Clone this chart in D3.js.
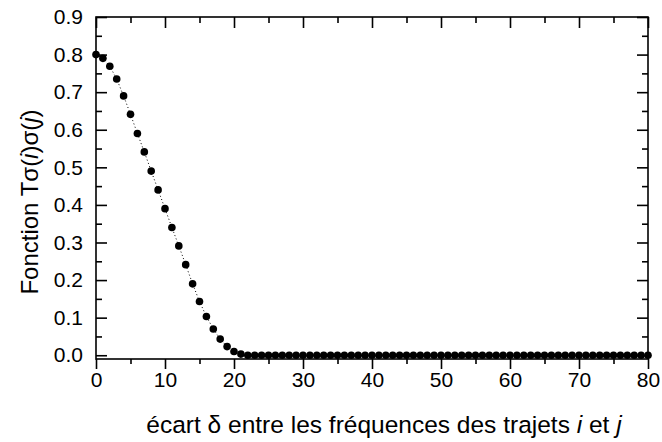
<!DOCTYPE html>
<html>
<head>
<meta charset="utf-8">
<script src="https://cdn.jsdelivr.net/npm/d3@7"></script>
<style>
body { margin: 0; background: #fff; }
text { font-family: "Liberation Sans", Arial, sans-serif; fill: #000; }
</style>
</head>
<body>
<div id="chart"></div>
<script>
// ecart delta (0..80) and the function value
var ecart = d3.range(0, 81)
var head = [0.80, 0.79, 0.769, 0.735, 0.69, 0.641, 0.59, 0.541, 0.49, 0.44,
	0.39, 0.34, 0.291, 0.241, 0.19, 0.143, 0.103, 0.07, 0.043, 0.023,
	0.010, 0.003]
var valeurs = ecart.map(function(d, i) { return i < head.length ? head[i] : 0 })
var xTicks = [0, 10, 20, 30, 40, 50, 60, 70, 80]
var yTicks = [0.0, 0.1, 0.2, 0.3, 0.4, 0.5, 0.6, 0.7, 0.8, 0.9]

var data = ecart.map(function(d, i) { return {x: d, y: valeurs[i]} })

var margin = {top: 17, right: 14, bottom: 83, left: 96},
	width = 662 - margin.left - margin.right,
	height = 442 - margin.top - margin.bottom

var svg = d3.select("#chart")
	.append("svg")
	.attr("width", 662)
	.attr("height", 442)
var g = svg.append("g")
	.attr("transform", `translate(${margin.left},${margin.top})`)

var x = d3.scaleLinear().domain([0, 80]).range([0, width])
var y = d3.scaleLinear().domain([-0.01, 0.9]).range([height, 0])

var xMinor = d3.range(5, 80, 10)
var yMinor = d3.range(0.05, 0.9, 0.1)

// dotted line
g.append("path")
	.datum(data)
	.attr("fill", "none")
	.attr("stroke", "#000")
	.attr("stroke-width", 1)
	.attr("stroke-dasharray", "1,2.5")
	.attr("d", d3.line().x(d => x(d.x)).y(d => y(d.y)))

// points
g.selectAll("circle")
	.data(data)
	.enter().append("circle")
	.attr("cx", d => x(d.x))
	.attr("cy", d => y(d.y))
	.attr("r", 3.8)
	.attr("fill", "#000")

function styleAxis(sel) {
	sel.select(".domain").remove()
	sel.selectAll("line").attr("stroke", "#000").attr("stroke-width", 1.6)
	sel.selectAll("text").style("font-size", "21px")
}

// bottom (outward ticks)
g.append("g").attr("transform", `translate(0,${height})`)
	.call(d3.axisBottom(x).tickValues(xTicks).tickSize(10).tickPadding(3).tickFormat(d3.format("d")))
	.call(styleAxis)
g.append("g").attr("transform", `translate(0,${height})`)
	.call(d3.axisBottom(x).tickValues(xMinor).tickSize(5).tickFormat(""))
	.call(styleAxis)

// top (inward)
g.append("g")
	.call(d3.axisTop(x).tickValues(xTicks).tickSize(-11).tickFormat(""))
	.call(styleAxis)
g.append("g")
	.call(d3.axisTop(x).tickValues(xMinor).tickSize(-6).tickFormat(""))
	.call(styleAxis)

// left (inward)
g.append("g")
	.call(d3.axisLeft(y).tickValues(yTicks).tickSize(-11).tickPadding(13).tickFormat(d3.format(".1f")))
	.call(styleAxis)
g.append("g")
	.call(d3.axisLeft(y).tickValues(yMinor).tickSize(-6).tickFormat(""))
	.call(styleAxis)

// right (inward)
g.append("g").attr("transform", `translate(${width},0)`)
	.call(d3.axisRight(y).tickValues(yTicks).tickSize(-11).tickFormat(""))
	.call(styleAxis)
g.append("g").attr("transform", `translate(${width},0)`)
	.call(d3.axisRight(y).tickValues(yMinor).tickSize(-6).tickFormat(""))
	.call(styleAxis)

// frame
g.append("rect")
	.attr("width", width)
	.attr("height", height)
	.attr("fill", "none")
	.attr("stroke", "#000")
	.attr("stroke-width", 1.6)

// axis titles
var xt = svg.append("text")
	.attr("x", 384)
	.attr("y", 433)
	.attr("text-anchor", "middle")
	.style("font-size", "24.5px")
xt.append("tspan").text("écart δ entre les fréquences des trajets ")
xt.append("tspan").style("font-style", "italic").text("i")
xt.append("tspan").text(" et ")
xt.append("tspan").style("font-style", "italic").text("j")

var yt = svg.append("text")
	.attr("transform", "translate(38,202) rotate(-90)")
	.attr("text-anchor", "middle")
	.style("font-size", "24px")
yt.append("tspan").text("Fonction Tσ(")
yt.append("tspan").style("font-style", "italic").text("i")
yt.append("tspan").text(")σ(")
yt.append("tspan").style("font-style", "italic").text("j")
yt.append("tspan").text(")")
</script>
</body>
</html>
